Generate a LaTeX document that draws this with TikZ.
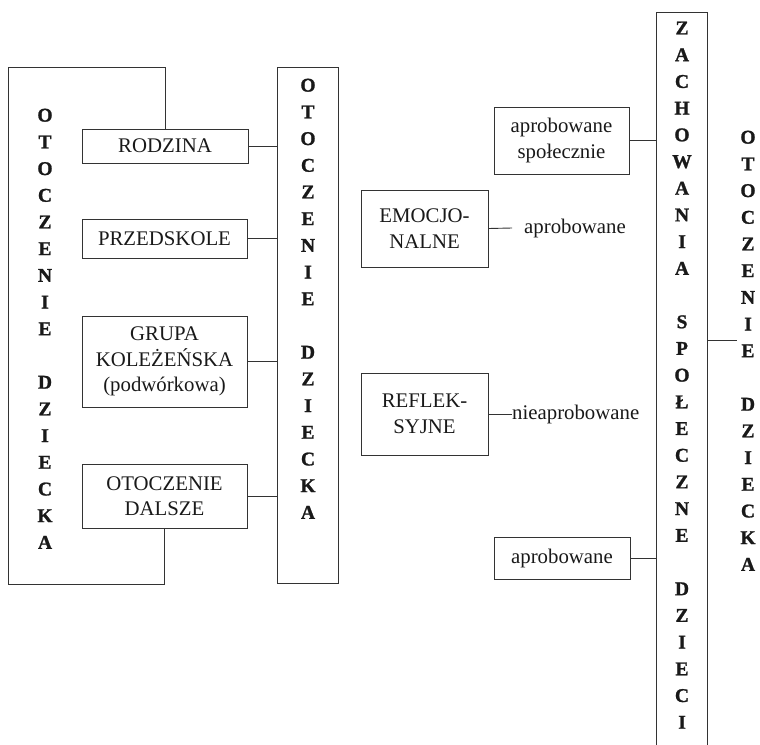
\documentclass[tikz,border=0pt]{standalone}
\usepackage{fontspec}
\setmainfont{Liberation Serif}[BoldFont={Liberation Serif Bold}]
\newfontfamily\colfont{Liberation Serif Bold}[FakeBold=1.2]
\begin{document}
\begin{tikzpicture}[x=1pt,y=-1pt,
  ln/.style={draw=black!80, line width=0.9pt},
  box/.style={ln, inner sep=0pt, align=center, font=\fontsize{20.8}{25.5}\selectfont, text=black!90},
  plain/.style={inner sep=0pt, font=\fontsize{20.8}{25.5}\selectfont, text=black!90},
  col/.style={inner sep=0pt, anchor=north, align=center, text=black!90, font=\colfont\fontsize{19.5}{26.7}\selectfont}]
\useasboundingbox (0,0) rectangle (760,744);
\clip (0,0) rectangle (760,744);

% left part
\node[box, minimum width=166, minimum height=34] (rod) at (165,146) {RODZINA};
\node[box, minimum width=165, minimum height=39] (prz) at (164.5,238.5) {PRZEDSKOLE};
\node[box, minimum width=165, minimum height=91] (gru) at (164.5,361.5) {GRUPA\\KOLEŻEŃSKA\\(podwórkowa)};
\node[box, minimum width=165, minimum height=64] (dal) at (164.5,496) {OTOCZENIE\\DALSZE};

\coordinate (ftl) at (8,67);
\coordinate (fbl) at (8,584);
\draw[ln] (rod.north) |- (ftl) -- (fbl) -| (dal.south);
\node[col] (lt) at (45,108.5) {O\\T\\O\\C\\Z\\E\\N\\I\\E\\[26.7pt]D\\Z\\I\\E\\C\\K\\A};

\node[ln, minimum width=61, minimum height=516, inner sep=0pt] (mid) at (307.5,325) {};
\node[col] (midt) at (308,78.5) {O\\T\\O\\C\\Z\\E\\N\\I\\E\\[26.7pt]D\\Z\\I\\E\\C\\K\\A};

\draw[ln] (rod.east) -- (rod.east -| mid.west);
\draw[ln] (prz.east) -- (prz.east -| mid.west);
\draw[ln] (gru.east) -- (gru.east -| mid.west);
\draw[ln] (dal.east) -- (dal.east -| mid.west);

% right part
\node[ln, minimum width=51, minimum height=760, inner sep=0pt] (zach) at (681.5,392) {};
\node[col] (zt) at (682,21.5) {Z\\A\\C\\H\\O\\W\\A\\N\\I\\A\\[26.7pt]S\\P\\O\\Ł\\E\\C\\Z\\N\\E\\[26.7pt]D\\Z\\I\\E\\C\\I};
\node[col] (rt) at (748,130.5) {O\\T\\O\\C\\Z\\E\\N\\I\\E\\[26.7pt]D\\Z\\I\\E\\C\\K\\A};
\coordinate (rend) at (737,340);
\draw[ln] (zach.east |- rend) -- (rend);

\node[box, minimum width=135, minimum height=67] (aps) at (561.5,140.5) {aprobowane\\społecznie};
\draw[ln] (aps.east) -- (aps.east -| zach.west);

\node[box, minimum width=127, minimum height=77] (emo) at (424.5,228.5) {EMOCJO-\\NALNE};
\node[plain, anchor=west] (apr1) at (524,228) {aprobowane};
\draw[ln] (emo.east) -- ([xshift=-12pt]apr1.west);

\node[box, minimum width=127, minimum height=82] (refl) at (424.5,414) {REFLEK-\\SYJNE};
\node[plain, anchor=west] (niea) at (512,414) {nieaprobowane};
\draw[ln] (refl.east) -- (niea.west);

\node[box, minimum width=136, minimum height=42] (apl) at (562,558) {aprobowane};
\draw[ln] (apl.east) -- (apl.east -| zach.west);
\end{tikzpicture}
\end{document}
